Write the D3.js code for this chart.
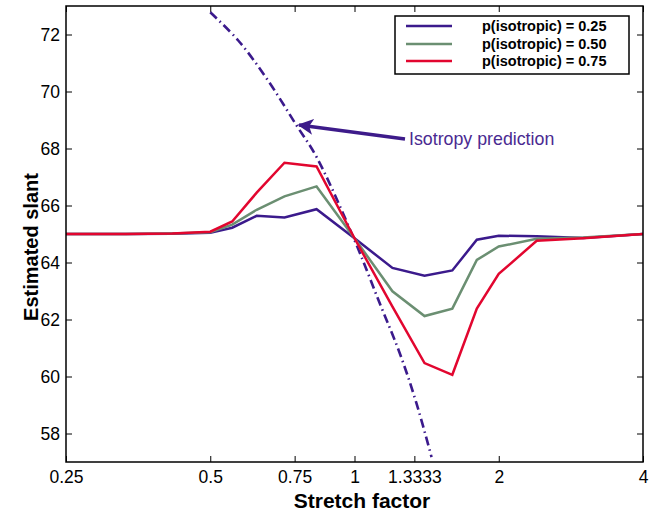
<!DOCTYPE html>
<html><head><meta charset="utf-8">
<script src="https://cdn.jsdelivr.net/npm/d3@7"></script>
<style>body{margin:0;background:#fff}svg{display:block;font-family:"Liberation Sans",Arial,Helvetica,sans-serif}</style>
</head><body><svg id="c" width="659" height="515"></svg>
<script>
// Data
const stretch = [0.25, 0.3333, 0.4167, 0.5, 0.5556, 0.625, 0.7143, 0.8333, 1, 1.2, 1.4, 1.6, 1.8, 2, 2.4, 3, 4];
const p025 = [65.0, 65.0, 65.01, 65.04, 65.22, 65.64, 65.58, 65.87, 64.85, 63.81, 63.54, 63.72, 64.8, 64.94, 64.92, 64.86, 65.0];
const p050 = [65.0, 65.0, 65.02, 65.06, 65.33, 65.85, 66.32, 66.67, 64.85, 62.99, 62.12, 62.38, 64.09, 64.56, 64.83, 64.88, 65.0];
const p075 = [65.0, 65.0, 65.02, 65.08, 65.44, 66.45, 67.5, 67.37, 64.85, 62.45, 60.47, 60.06, 62.38, 63.6, 64.76, 64.85, 65.0];
const isoX = [0.5, 0.572, 0.656, 0.757, 0.834, 0.994, 1.13, 1.244, 1.348, 1.448];
const isoY = [72.78, 71.79, 70.45, 68.81, 67.69, 64.89, 62.55, 60.80, 59.04, 57.17];
const xTicks = [0.25, 0.5, 0.75, 1, 1.3333, 2, 4];
const xTickLabels = ["0.25", "0.5", "0.75", "1", "1.3333", "2", "4"];
const yTicks = [58, 60, 62, 64, 66, 68, 70, 72];
const seriesNames = ["p(isotropic) = 0.25", "p(isotropic) = 0.50", "p(isotropic) = 0.75"];
const seriesColors = ["#3b1a8c", "#6b8f72", "#e2062f"];

const svg = d3.select("#c");
const L = 66, R = 643, T = 6, B = 462;
const x = d3.scaleLog().base(2).domain([0.25, 4]).range([L, R]);
const y = d3.scaleLinear().domain([57, 73]).range([B, T]);

svg.append("defs").append("clipPath").attr("id", "clip")
  .append("rect").attr("x", L).attr("y", T).attr("width", R - L).attr("height", B - T);

const fontTick = "17.5px";
// axes
const gx = svg.append("g").attr("transform", `translate(0,${B})`)
  .call(d3.axisBottom(x).tickValues(xTicks).tickSize(-6).tickPadding(9)
    .tickFormat((d, i) => xTickLabels[i]));
const gt = svg.append("g").attr("transform", `translate(0,${T})`)
  .call(d3.axisTop(x).tickValues(xTicks).tickSize(-6).tickFormat(""));
const gy = svg.append("g").attr("transform", `translate(${L},0)`)
  .call(d3.axisLeft(y).tickValues(yTicks).tickSize(-6).tickPadding(6));
const gr = svg.append("g").attr("transform", `translate(${R},0)`)
  .call(d3.axisRight(y).tickValues(yTicks).tickSize(-6).tickFormat(""));
[gx, gt, gy, gr].forEach(g => {
  g.select(".domain").remove();
  g.selectAll(".tick line").attr("stroke", "#000").attr("stroke-width", 1);
  g.selectAll("text").attr("fill", "#000").style("font-size", fontTick)
    .style("font-family", '"Liberation Sans",Arial,Helvetica,sans-serif');
});

const plot = svg.append("g").attr("clip-path", "url(#clip)");
const line = d3.line().x(d => x(d[0])).y(d => y(d[1]));

// isotropy prediction
plot.append("path")
  .datum(isoX.map((v, i) => [v, isoY[i]]))
  .attr("d", d3.line().x(d => x(d[0])).y(d => y(d[1])).curve(d3.curveMonotoneX.constructor ? d3.curveCatmullRom : d3.curveLinear))
  .attr("fill", "none").attr("stroke", "#3b1a8c").attr("stroke-width", 2.6)
  .attr("stroke-dasharray", "9,4,1.5,4");

[p025, p050, p075].forEach((s, k) => {
  plot.append("path").datum(stretch.map((v, i) => [v, s[i]]))
    .attr("d", line).attr("fill", "none")
    .attr("stroke", seriesColors[k]).attr("stroke-width", 2.5)
    .attr("stroke-linejoin", "miter");
});

// frame
svg.append("rect").attr("x", L).attr("y", T).attr("width", R - L).attr("height", B - T)
  .attr("fill", "none").attr("stroke", "#000").attr("stroke-width", 1.5);

// annotation arrow
const ac = "#3d1b8a";
svg.append("defs").append("marker").attr("id", "ah").attr("viewBox", "0 0 10 10")
  .attr("refX", 9).attr("refY", 5).attr("markerWidth", 4.5).attr("markerHeight", 4.5)
  .attr("orient", "auto").attr("markerUnits", "strokeWidth")
  .append("path").attr("d", "M0,0 L10,5 L0,10 L2.5,5 Z").attr("fill", ac);
svg.append("line").attr("x1", 405).attr("y1", 139).attr("x2", 299).attr("y2", 125)
  .attr("stroke", ac).attr("stroke-width", 3.5).attr("marker-end", "url(#ah)");
svg.append("text").attr("x", 409).attr("y", 145).attr("fill", "#4a2a91")
  .style("font-size", "17.8px").text("Isotropy prediction");

// legend
const lg = svg.append("g");
lg.append("rect").attr("x", 395).attr("y", 16).attr("width", 234).attr("height", 58)
  .attr("fill", "#fff").attr("stroke", "#000").attr("stroke-width", 1.5);
const ly = [26, 44, 61];
seriesNames.forEach((n, k) => {
  lg.append("line").attr("x1", 406).attr("x2", 452).attr("y1", ly[k]).attr("y2", ly[k])
    .attr("stroke", seriesColors[k]).attr("stroke-width", 2.5);
  lg.append("text").attr("x", 482).attr("y", ly[k]).attr("dy", "0.36em")
    .style("font-size", "14.5px").style("font-weight", "bold").attr("fill", "#000").text(n);
});

// axis labels
svg.append("text").attr("x", 362).attr("y", 508).attr("text-anchor", "middle")
  .style("font-size", "21px").style("font-weight", "bold").text("Stretch factor");
svg.append("text").attr("transform", "translate(38,247) rotate(-90)").attr("text-anchor", "middle")
  .style("font-size", "20px").style("font-weight", "bold").text("Estimated slant");
</script></body></html>
